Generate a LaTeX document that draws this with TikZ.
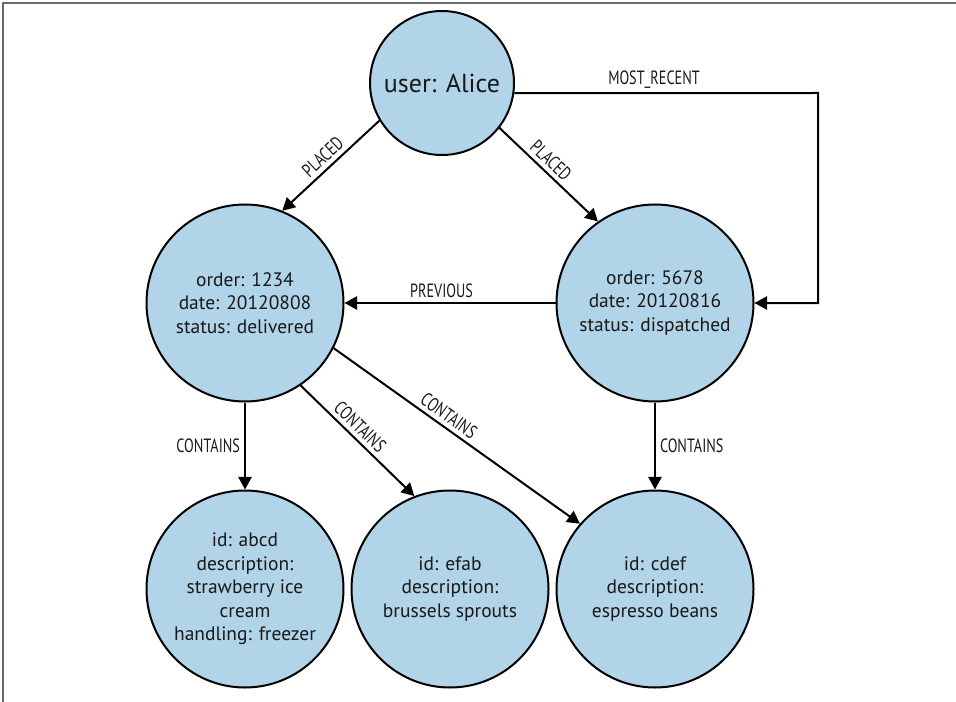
\documentclass[tikz,border=0pt]{standalone}
\usepackage{fontspec}
\setmainfont{PT Sans}
\newfontfamily\edgefont[FakeStretch=0.74]{PT Sans}
\usetikzlibrary{arrows.meta}
\definecolor{nodeblue}{RGB}{177,212,233}
\definecolor{framegray}{RGB}{105,105,105}
\tikzset{
  entity/.style={circle, draw=black, line width=1.5pt, fill=nodeblue, align=center,
    inner sep=0pt, minimum size=147.75pt, text=black!90,
    font=\fontsize{14.6}{17.6}\selectfont},
  rel/.style={-{Triangle[length=9.5pt,width=10pt]}, line width=1.5pt},
  rellabel/.style={font=\edgefont\fontsize{14.4}{16}\selectfont, text=black!90, inner sep=3pt}
}

\begin{document}
\begin{tikzpicture}[x=0.75pt, y=-0.75pt]
				%%%%% FRAME %%%%%
				\useasboundingbox (0,0) rectangle (956,702);
				\draw[framegray, line width=1.1pt] (3,702) -- (3,3) -- (956,3);

				%%%%% NODES %%%%%
				\node[entity, minimum size=108pt, font=\fontsize{19.5}{22}\selectfont] (alice) at (442,83) {user: Alice};
				\node[entity] (o1234) at (245,303) {order: 1234\\date: 20120808\\status: delivered};
				\node[entity] (o5678) at (655,303) {order: 5678\\date: 20120816\\status: dispatched};
				\node[entity] (abcd) at (245,589) {id: abcd\\description:\\strawberry ice\\cream\\handling: freezer};
				\node[entity] (efab) at (450,589) {id: efab\\description:\\brussels sprouts};
				\node[entity] (cdef) at (655,589) {id: cdef\\description:\\espresso beans};
				\coordinate (mrcorner) at (818,93);

				%%%%% RELATIONSHIPS %%%%%
				\draw[rel] (alice.-149) -- node[rellabel, sloped, above, pos=0.5] {PLACED} (o1234.68);
				\draw[rel] (alice.-38) -- node[rellabel, sloped, above, pos=0.44] {PLACED} (o5678.125);
				\draw[rel] (alice.-8) -- node[rellabel, above, pos=0.46] {MOST\_RECENT} (mrcorner) |- (o5678.east);
				\draw[rel] (o5678) -- node[rellabel, above, pos=0.54] {PREVIOUS} (o1234);
				\draw[rel] (o1234) -- node[rellabel, left] {CONTAINS} (abcd);
				\draw[rel] (o1234.-56) -- node[rellabel, sloped, above, pos=0.45] {CONTAINS} (efab.111);
				\draw[rel] (o1234.-27) -- node[rellabel, sloped, above, pos=0.44] {CONTAINS} (cdef.139);
				\draw[rel] (o5678) -- node[rellabel, right] {CONTAINS} (cdef);
\end{tikzpicture}
\end{document}
